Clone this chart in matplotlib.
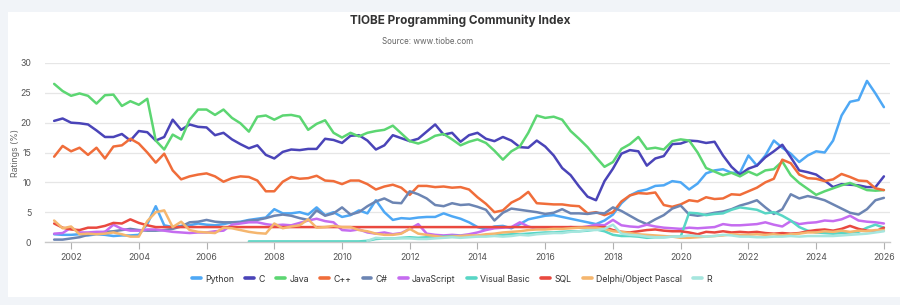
import numpy as np
import matplotlib
matplotlib.use("Agg")
import matplotlib.pyplot as plt
from matplotlib.patches import Rectangle
from matplotlib.lines import Line2D

plt.rcParams['font.family'] = ['Inter', 'DejaVu Sans']

# quarterly samples, mid-2001 .. 2026
years = np.arange(2001.5, 2026.01, 0.25)
nan = np.nan

python = [1.3, 1.2,
          1.2, 1.3, 1.1, 1.3,   1.2, 1.0, 1.1, 1.1,   1.2, 3.0, 6.0, 2.8,
          2.5, 2.7, 2.8, 3.1,   2.9, 2.8, 3.0, 3.3,   3.4, 3.7, 3.9, 4.1,
          5.5, 4.8, 4.8, 5.0,   4.6, 5.8, 4.5, 5.0,   4.2, 4.5, 5.3, 4.8,
          7.0, 5.0, 3.7, 4.0,   3.9, 4.1, 4.2, 4.2,   4.8, 4.3, 3.9, 3.3,
          2.5, 2.1, 2.6, 2.7,   2.3, 3.0, 3.8, 4.1,   4.4, 4.5, 4.2, 3.9,
          3.6, 3.3, 3.0, 3.6,   4.6, 6.5, 7.8, 8.5,   8.8, 9.4, 9.5, 10.2,
          10.0, 8.8, 9.8, 11.5, 12.0, 12.2, 11.6, 11.6, 14.5, 12.8, 14.5, 17.0,
          15.8, 14.8, 13.4, 14.5, 15.2, 15.0, 17.0, 21.2, 23.5, 23.8, 27.0, 24.9,
          22.6]

c_lang = [20.3, 20.7,
          20.0, 19.9, 19.7, 18.7, 17.6, 17.6, 18.1, 17.0, 18.6, 18.4, 17.0, 17.6,
          20.5, 18.8, 19.7, 19.3, 19.2, 17.9, 18.3, 17.2, 16.4, 15.7, 16.2, 14.6,
          14.0, 15.1, 15.5, 15.4, 15.6, 15.6, 17.3, 17.1, 16.6, 17.8, 17.9, 17.0,
          15.5, 16.2, 17.9, 17.4, 16.9, 17.3, 18.5, 19.7, 18.0, 18.3, 16.8, 17.9,
          18.3, 17.3, 16.9, 17.6, 17.0, 15.9, 15.8, 17.0, 16.0, 14.5, 12.4, 11.2,
          9.3, 7.6, 7.0, 10.2,  12.3, 14.8, 15.4, 15.2, 12.8, 14.0, 14.4, 16.4,
          16.5, 17.0, 16.9, 16.6, 16.8, 14.5, 12.6, 11.3, 12.3, 12.8, 14.2, 15.2,
          16.3, 14.2, 12.0, 11.7, 11.3, 10.3, 9.2, 9.7,  9.6, 9.5, 9.2, 9.2,
          11.0]

java = [26.5, 25.3,
        24.5, 24.9, 24.5, 23.2,   24.6, 24.7, 22.8, 23.6,   23.0, 24.0, 17.0, 15.5,
        18.0, 17.2, 20.5, 22.2,   22.2, 21.3, 22.2, 20.8,   19.9, 18.5, 21.0, 21.2,
        20.5, 21.2, 21.3, 21.0,   18.8, 19.8, 20.4, 18.3,   17.5, 18.3, 17.7, 18.3,
        18.6, 18.8, 19.5, 18.2,   16.9, 16.5, 17.0, 17.8,   18.1, 17.2, 16.2, 16.8,
        17.2, 16.6, 15.3, 13.8,   15.2, 16.0, 18.3, 21.2,   20.8, 21.0, 20.5, 18.6,
        17.3, 15.9, 14.2, 12.6,   13.4, 15.6, 16.4, 17.6,   15.6, 15.8, 15.5, 16.9,
        17.2, 17.0, 15.0, 12.4,   11.8, 11.2, 11.6, 11.0,   11.8, 11.2, 12.0, 12.2,
        13.5, 11.2, 9.9, 8.9,     7.9, 8.5, 9.0, 9.5,       9.9, 9.3, 8.7, 8.6,
        8.7]

cpp = [14.3, 16.1,
       15.2, 15.8, 14.6, 15.8,   14.0, 16.0, 16.2, 17.3,   16.5, 15.0, 13.3, 14.8,
       12.0, 10.5, 11.0, 11.3,   11.5, 11.0, 10.1, 10.7,   11.0, 10.9, 10.3, 8.5,
       8.5, 10.1, 10.9, 10.6,    10.7, 11.1, 10.3, 10.2,   9.7, 10.3, 10.3, 9.7,
       8.8, 9.3, 9.6, 9.1,       7.9, 9.4, 9.4, 9.2,       9.3, 9.1, 9.2, 8.8,
       7.5, 6.4, 5.0, 5.3,       6.6, 7.3, 8.4, 6.5,       6.4, 6.3, 6.3, 6.1,
       6.0, 4.8, 5.0, 4.5,       5.0, 6.8, 7.8, 8.2,       8.1, 8.3, 6.2, 5.9,
       6.3, 7.0, 6.8, 7.5,       7.2, 7.3, 8.0, 7.9,       8.5, 9.1, 10.0, 10.6,
       13.8, 13.2, 11.3, 10.7,   10.6, 10.2, 10.5, 11.4,   10.9, 10.3, 10.2, 9.0,
       8.7]

csharp = [0.4, 0.4,
          0.6, 0.8, 1.2, 1.4,   1.7, 1.8, 2.0, 2.2,   2.0, 1.9, 1.9, 2.0,
          2.2, 2.6, 3.3, 3.4,   3.7, 3.4, 3.3, 3.3,   3.3, 3.6, 3.7, 4.0,
          4.4, 4.6, 4.4, 4.0,   3.7, 5.3, 4.4, 4.8,   5.8, 4.6, 5.0, 6.0,
          6.8, 7.3, 6.6, 6.5,   8.5, 8.0, 7.3, 6.2,   6.0, 6.5, 6.2, 6.3,
          5.9, 5.4, 3.6, 4.9,   5.6, 5.4, 5.2, 5.0,   4.7, 4.9, 5.5, 4.8,
          4.8, 4.7, 4.9, 4.8,   5.8, 5.2, 4.4, 3.6,   3.0, 3.8, 4.5, 5.6,
          6.1, 4.6, 4.4, 4.6,   4.9, 5.1, 5.5, 6.1,   6.5, 7.0, 5.8, 4.7,
          5.5, 8.0, 7.3, 7.7,   7.4, 7.0, 6.3, 5.6,   4.9, 4.6, 5.5, 7.0,
          7.4]

javascript = [1.4, 1.5,
              2.4, 1.6, 1.6, 1.7,   1.7, 2.9, 2.2, 1.9,   1.9, 2.1, 2.1, 1.9,
              1.7, 1.6, 1.5, 1.6,   1.6, 1.8, 1.9, 2.9,   3.1, 3.3, 3.3, 3.0,
              2.8, 2.9, 2.8, 3.2,   3.6, 3.9, 3.5, 3.3,   2.0, 1.9, 2.1, 1.6,
              1.4, 1.6, 1.3, 1.5,   2.2, 3.0, 1.4, 1.2,   1.1, 1.2, 1.1, 1.3,
              1.6, 2.0, 2.3, 2.4,   2.5, 3.3, 2.6, 2.2,   2.4, 2.3, 2.4, 2.5,
              2.4, 2.6, 2.9, 2.8,   3.7, 2.8, 2.6, 2.5,   2.9, 2.6, 2.4, 2.3,
              2.2, 2.4, 2.3, 2.4,   2.5, 3.0, 2.8, 2.8,   2.9, 3.0, 3.3, 2.9,
              2.6, 3.5, 3.0, 3.2,   3.3, 3.6, 3.5, 3.8,   4.4, 3.6, 3.4, 3.3,
              3.1]

visual_basic = [nan, nan,
                nan, nan, nan, nan,   nan, nan, nan, nan,   nan, nan, nan, nan,
                nan, nan, nan, nan,   nan, nan, nan, nan,   nan, 0.1, 0.1, 0.1,
                0.1, 0.1, 0.1, 0.1,   0.1, 0.1, 0.1, 0.1,   0.1, 0.1, 0.1, 0.2,
                0.5, 0.6, 0.6, 0.7,   0.8, 0.7, 0.8, 0.9,   0.9, 1.0, 1.0, 1.0,
                1.0, 1.1, 1.1, 1.2,   1.3, 1.3, 1.4, 1.5,   1.6, 1.6, 1.7, 1.8,
                1.8, 1.9, 2.1, 1.8,   1.2, 1.0, 1.0, 0.9,   0.7, 0.8, 0.8, 0.9,
                0.9, 4.9, 4.8, 4.5,   4.7, 4.8, 5.4, 5.8,   5.6, 5.4, 4.8, 5.0,
                4.4, 3.6, 2.5, 1.9,   1.6, 1.5, 1.4, 1.5,   1.6, 1.7, 2.4, 2.9,
                2.4]

sql = [3.1, 2.4,
       2.1, 2.0, 2.4, 2.4,   2.7, 3.2, 3.1, 3.8,   3.2, 2.8, 2.5, 2.5,
       2.5, 2.5, 2.5, 2.5,   2.5, 2.5, 2.5, 2.5,   2.5, 2.5, 2.5, 2.5,
       2.5, 2.5, 2.5, 2.5,   2.5, 2.5, 2.5, 2.5,   2.5, 2.5, 2.5, 2.5,
       2.5, 2.5, 2.5, 2.5,   2.5, 2.5, 2.5, 2.5,   2.5, 2.5, 2.5, 2.5,
       2.5, 2.5, 2.5, 2.5,   2.5, 2.5, 2.5, 2.5,   2.5, 2.5, 2.5, 2.5,
       2.5, 2.5, 2.5, 2.5,   2.0, 1.7, 1.6, 1.8,   2.0, 2.1, 1.9, 1.8,
       1.8, 1.6, 1.3, 1.7,   1.6, 1.8, 1.6, 1.7,   1.6, 1.7, 1.5, 1.4,
       1.5, 1.4, 1.5, 1.8,   2.0, 2.1, 1.9, 2.2,   2.7, 2.2, 1.9, 1.8,
       2.4]

delphi = [3.6, 2.3,
          2.6, 1.3, 1.4, 1.3,   1.4, 1.6, 1.3, 0.9,   0.9, 3.5, 5.0, 5.3,
          2.5, 3.4, 2.0, 1.7,   1.6, 1.5, 2.4, 2.3,   2.0, 1.7, 1.5, 1.4,
          3.1, 2.3, 2.6, 2.8,   3.8, 2.4, 2.5, 2.7,   2.5, 2.5, 2.0, 1.8,
          1.4, 1.2, 1.2, 1.4,   2.2, 1.4, 1.2, 1.0,   0.8, 0.9, 1.0, 1.1,
          1.1, 1.3, 1.4, 1.6,   1.7, 1.8, 2.0, 2.1,   2.1, 2.2, 2.2, 2.3,
          2.4, 2.4, 2.4, 2.2,   1.8, 1.7, 1.5, 1.3,   1.2, 1.1, 1.0, 0.9,
          0.7, 0.7, 0.8, 0.9,   1.0, 1.1, 1.3, 1.2,   1.2, 1.3, 1.2, 1.3,
          1.1, 1.3, 1.4, 1.6,   1.6, 1.8, 1.7, 1.9,   1.7, 1.9, 1.8, 2.0,
          2.0]

r_lang = [nan, nan,
          nan, nan, nan, nan,   nan, nan, nan, nan,   nan, nan, nan, nan,
          nan, nan, nan, nan,   nan, nan, nan, nan,   nan, nan, nan, nan,
          nan, nan, nan, nan,   nan, nan, nan, nan,   nan, nan, nan, 0.2,
          0.7, 0.6, 0.6, 0.6,   0.6, 0.5, 0.5, 0.6,   0.7, 0.8, 0.7, 0.8,
          0.9, 0.9, 1.0, 0.9,   1.0, 1.2, 1.1, 1.3,   1.4, 1.5, 1.5, 1.7,
          1.8, 2.0, 2.0, 2.2,   2.9, 1.4, 1.2, 1.1,   0.9, 0.8, 0.8, 0.9,
          0.9, 1.1, 1.0, 0.9,   1.0, 1.2, 1.1, 0.9,   0.9, 0.8, 0.8, 0.9,
          0.9, 1.0, 0.9, 1.0,   1.0, 1.0, 1.0, 1.1,   1.2, 1.3, 1.4, 1.6,
          1.8]

names = ["Python", "C", "Java", "C++", "C#", "JavaScript",
         "Visual Basic", "SQL", "Delphi/Object Pascal", "R"]
series = [python, c_lang, java, cpp, csharp, javascript,
          visual_basic, sql, delphi, r_lang]
colors = ["#4ea8f5", "#4a44b8", "#5cd672", "#f06d3a", "#6c85b3", "#c56cf0",
          "#58d6c5", "#e9493f", "#f5b66e", "#a6e6de"]

fig = plt.figure(figsize=(9, 3.05), dpi=100, facecolor="#f1f4f8")
fig.patches.append(Rectangle((8 / 900, 8 / 305), 892 / 900, 285 / 305,
                             transform=fig.transFigure, facecolor="white",
                             edgecolor="none", zorder=-10))

ax = fig.add_axes([45 / 900, 63 / 305, 845 / 900, 179 / 305])
ax.set_facecolor("white")

for vals, name, col in zip(series, names, colors):
    ax.plot(years, vals, color=col, lw=1.8, label=name,
            solid_joinstyle="round", solid_capstyle="round")

ax.set_xlim(2001.23, 2026.18)
ax.set_ylim(0, 30)
ax.set_yticks([0, 5, 10, 15, 20, 25, 30])
ax.set_xticks(range(2002, 2027, 2))
ax.grid(axis="y", color="#e6e6e6", lw=0.9)
ax.set_axisbelow(True)
for s in ["top", "right", "left"]:
    ax.spines[s].set_visible(False)
ax.spines["bottom"].set_color("#c8c8c8")
ax.spines["bottom"].set_linewidth(1.0)
ax.tick_params(axis="y", length=0, labelsize=6.3, labelcolor="#555555", pad=10)
ax.tick_params(axis="x", length=5, color="#b0b0b0", labelsize=6.3,
               labelcolor="#555555", pad=3)
ax.set_ylabel("Ratings (%)", fontsize=6.3, color="#666666", labelpad=0)

fig.text(460 / 900, 1 - 21 / 305, "TIOBE Programming Community Index",
         ha="center", va="center", fontsize=8.5, fontweight="bold", color="#333333")
fig.text(428 / 900, 1 - 41 / 305, "Source: www.tiobe.com",
         ha="center", va="center", fontsize=5.8, color="#666666")

handles = [Line2D([0], [0], color=c, lw=2.6, solid_capstyle="round") for c in colors]
fig.legend(handles, names, loc="center", bbox_to_anchor=(452 / 900, 1 - 279 / 305),
           ncol=10, frameon=False, fontsize=6.3, handlelength=1.0,
           handletextpad=0.5, columnspacing=1.3, labelcolor="#333333")

fig.savefig("out.png", dpi=100, facecolor=fig.get_facecolor())
